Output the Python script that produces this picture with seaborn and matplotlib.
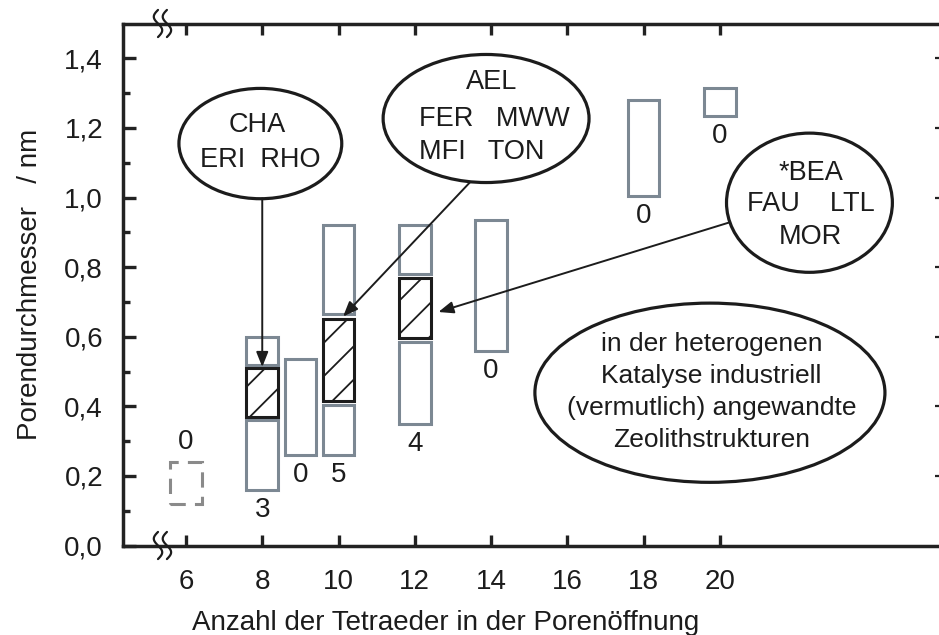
import matplotlib
matplotlib.use("Agg")
import matplotlib.pyplot as plt
from matplotlib.patches import Ellipse
from matplotlib.ticker import FixedLocator, FuncFormatter
import numpy as np
import pandas as pd
import seaborn as sns

# Pore diameter ranges (nm) per ring size (number of T-atoms in the pore opening)
ring_size = [6, 8, 8, 8, 9, 10, 10, 10, 12, 12, 12, 14, 18, 20]
d_min = [0.12, 0.52, 0.37, 0.16, 0.26, 0.665, 0.415, 0.26, 0.78, 0.595, 0.35, 0.56, 1.005, 1.235]
d_max = [0.24, 0.60, 0.51, 0.36, 0.535, 0.92, 0.65, 0.405, 0.92, 0.77, 0.585, 0.935, 1.28, 1.315]
group = ["hypothetisch", "weitere", "industriell", "weitere", "weitere",
         "weitere", "industriell", "weitere", "weitere", "industriell",
         "weitere", "weitere", "weitere", "weitere"]

# Number of industrially used framework types per ring size
count_ring = [6, 8, 9, 10, 12, 14, 18, 20]
count_value = [0, 3, 0, 5, 4, 0, 0, 0]
count_side = ["oben", "unten", "unten", "unten", "unten", "unten", "unten", "unten"]

x_ticks = [6, 8, 10, 12, 14, 16, 18, 20]
y_ticks = [0.0, 0.2, 0.4, 0.6, 0.8, 1.0, 1.2, 1.4]
y_minor = [0.1, 0.3, 0.5, 0.7, 0.9, 1.1, 1.3]

callout_8 = ["CHA", "ERI  RHO"]
callout_10 = ["AEL", "FER   MWW", "MFI   TON"]
callout_12 = ["*BEA", "FAU    LTL", "MOR"]
note_lines = ["in der heterogenen", "Katalyse industriell",
              "(vermutlich) angewandte", "Zeolithstrukturen"]

sns.set_theme(style="ticks")
plt.rcParams["font.family"] = ["Liberation Sans", "DejaVu Sans"]
plt.rcParams["hatch.linewidth"] = 1.3
INK = "#1c1c1c"
GREY = "#7c8893"

fig = plt.figure(figsize=(9.39, 6.35), dpi=100)
ax = fig.add_axes([122.5 / 939, (635 - 545.5) / 635, (941 - 122.5) / 939, (545.5 - 23.5) / 635])
ax.set_xlim(4.335, 25.80)
ax.set_ylim(0, 1.5)

df = pd.DataFrame(dict(n=ring_size, lo=d_min, hi=d_max, art=group))
styles = {
    "weitere": dict(facecolor="white", edgecolor=GREY, linewidth=2.2),
    "industriell": dict(facecolor="white", edgecolor=INK, linewidth=2.2, hatch="/"),
    "hypothetisch": dict(facecolor="none", edgecolor="#8a8a8a", linewidth=2.2,
                         linestyle=(0, (5, 3))),
}
for art, sub in df.groupby("art"):
    ax.bar(sub["n"], sub["hi"] - sub["lo"], bottom=sub["lo"], width=0.83,
           zorder=3, **styles[art])

# counts of industrially used structures next to each column
for r, v, side in zip(count_ring, count_value, count_side):
    sub = df[df["n"] == r]
    if side == "oben":
        xy, off = (r, sub["hi"].max()), 14.5
    else:
        xy, off = (r, sub["lo"].min()), -14.5
    ax.annotate(str(v), xy=xy, xytext=(0, off), textcoords="offset points",
                ha="center", va="center", fontsize=20, color=INK, zorder=6)

# callout ellipses
def bubble(cx, cy, w, h):
    ax.add_patch(Ellipse((cx, cy), w, h, facecolor="white", edgecolor=INK,
                         linewidth=2.3, zorder=4))

bubble(7.95, 1.155, 4.27, 0.317)
ax.text(7.88, 1.209, callout_8[0], ha="center", va="center", fontsize=19.5, color=INK, zorder=5)
ax.text(7.96, 1.109, callout_8[1], ha="center", va="center", fontsize=19.5, color=INK, zorder=5)

bubble(13.87, 1.227, 5.40, 0.368)
ax.text(14.02, 1.331, callout_10[0], ha="center", va="center", fontsize=19.5, color=INK, zorder=5)
ax.text(12.11, 1.227, callout_10[1], ha="left", va="center", fontsize=19.5, color=INK, zorder=5)
ax.text(12.11, 1.132, callout_10[2], ha="left", va="center", fontsize=19.5, color=INK, zorder=5)

bubble(22.35, 0.985, 4.35, 0.40)
for line, yy in zip(callout_12, [1.069, 0.980, 0.886]):
    ax.text(22.38, yy, line, ha="center", va="center", fontsize=19.5, color=INK, zorder=5)

bubble(19.74, 0.439, 9.18, 0.515)
for line, yy in zip(note_lines, [0.580, 0.488, 0.396, 0.304]):
    ax.text(19.78, yy, line, ha="center", va="center", fontsize=19, color=INK, zorder=5)

# arrows from the callouts to the hatched ranges
arrow = dict(arrowstyle="-|>,head_length=0.45,head_width=0.18", color=INK, lw=1.4,
             shrinkA=0, shrinkB=0, mutation_scale=20)
ax.annotate("", xy=(8.0, 0.513), xytext=(8.0, 0.997), arrowprops=arrow, zorder=5)
ax.annotate("", xy=(10.12, 0.658), xytext=(13.45, 1.044), arrowprops=arrow, zorder=5)
ax.annotate("", xy=(12.62, 0.671), xytext=(20.24, 0.928), arrowprops=arrow, zorder=5)

# axes styling
for side in ["left", "top", "bottom"]:
    ax.spines[side].set_linewidth(2.5)
    ax.spines[side].set_color("#222222")
ax.spines["right"].set_visible(False)

ax.xaxis.set_major_locator(FixedLocator(x_ticks))
ax.yaxis.set_major_locator(FixedLocator(y_ticks))
ax.yaxis.set_minor_locator(FixedLocator(y_minor))
ax.yaxis.set_major_formatter(FuncFormatter(lambda v, p: f"{v:.1f}".replace(".", ",")))
ax.tick_params(axis="x", which="major", direction="in", length=8, width=2.4,
               top=True, bottom=True, labelsize=20, pad=17, colors="#222222",
               labelcolor=INK)
ax.tick_params(axis="y", which="major", direction="in", length=9.5, width=2.4,
               left=True, right=False, labelsize=20, pad=14, colors="#222222",
               labelcolor=INK)
ax.tick_params(axis="y", which="minor", direction="in", length=4.7, width=2.4,
               left=True, right=False, colors="#222222")

# short marks on the right-hand edge
ax2 = ax.twinx()
ax2.set_ylim(0, 1.5)
ax2.yaxis.set_major_locator(FixedLocator(y_ticks[1:]))
ax2.tick_params(axis="y", direction="in", length=4.5, width=1.6, labelright=False,
                colors="#222222")
for s in ax2.spines.values():
    s.set_visible(False)

ax.set_xlabel("Anzahl der Tetraeder in der Porenöffnung", fontsize=20, color=INK)
ax.set_ylabel("Porendurchmesser   / nm", fontsize=20, color=INK, va="center")
ax.xaxis.set_label_coords(0.395, -0.123)
ax.yaxis.set_label_coords(-0.113, 0.5)

# axis break marks on the top and bottom spines
t = np.linspace(0, 1, 60)
for y_ax in (0.0, 1.0):
    for x0 in (5.266, 5.50):
        xs = x0 - 0.11 * np.sin(2 * np.pi * t)
        ys = y_ax + 0.026 * (0.5 - t) * 2
        ax.plot(xs, ys, color=INK, lw=1.6, transform=ax.get_xaxis_transform(),
                clip_on=False, zorder=7)

fig.savefig("out.png", dpi=100)
